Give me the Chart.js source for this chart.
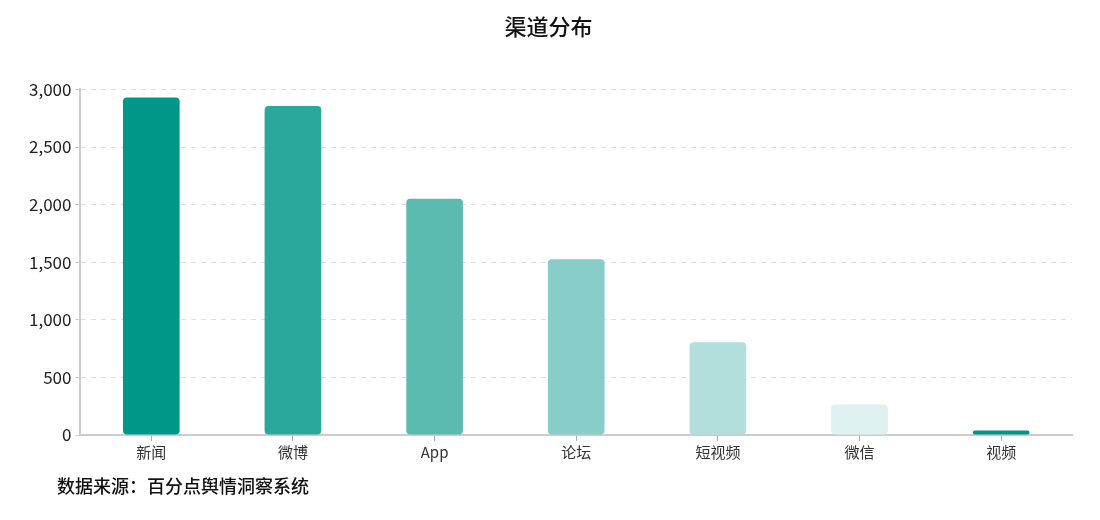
<!DOCTYPE html>
<html>
<head>
<meta charset="utf-8">
<script src="https://cdn.jsdelivr.net/npm/chart.js@4"></script>
<style>
    html, body { margin: 0; padding: 0; background: #fff; }
    #wrap { position: relative; width: 1100px; height: 520px; }
    #source {
        position: absolute; left: 57px; top: 472px;
        font: 500 18px "Noto Sans CJK SC", sans-serif; color: #111;
    }
</style>
</head>
<body>
<div id="wrap">
    <canvas id="channelChart" width="1100" height="520"></canvas>
    <div id="source">数据来源：百分点舆情洞察系统</div>
</div>
<script>
const channels = ['新闻', '微博', 'App', '论坛', '短视频', '微信', '视频'];
const counts = [2930, 2855, 2050, 1525, 805, 265, 38];
const barColors = ['#009688', '#2ba89c', '#5bbbb0', '#88cdc7', '#b2dfdb', '#dff1f0', '#009688'];

const fontFamily = '"Noto Sans CJK SC", "Noto Sans", sans-serif';

document.addEventListener('DOMContentLoaded', () => {
    initializeChart();
});

function initializeChart() {
    const ctx = document.getElementById('channelChart').getContext('2d');
    new Chart(ctx, {
        type: 'bar',
        data: {
            labels: channels,
            datasets: [{
                label: '渠道分布',
                data: counts,
                backgroundColor: barColors,
                borderRadius: 4,
                borderSkipped: false,
                barPercentage: 0.4,
                categoryPercentage: 1
            }]
        },
        options: {
            responsive: false,
            animation: false,
            layout: {
                padding: { left: 25, right: 28, top: 0, bottom: 57 }
            },
            plugins: {
                legend: { display: false },
                tooltip: { enabled: false },
                title: {
                    display: true,
                    text: '渠道分布',
                    color: '#111',
                    font: { family: fontFamily, size: 22, weight: '500' },
                    padding: { top: 13, bottom: 50 }
                }
            },
            scales: {
                x: {
                    grid: {
                        offset: false,
                        drawOnChartArea: false,
                        drawTicks: true,
                        tickLength: 6,
                        color: '#aaa'
                    },
                    border: { color: '#ccc', width: 2 },
                    ticks: {
                        color: '#333',
                        padding: 2,
                        font: { family: fontFamily, size: 15 }
                    }
                },
                y: {
                    min: 0,
                    max: 3000,
                    ticks: {
                        stepSize: 500,
                        color: '#222',
                        padding: 4,
                        font: { family: fontFamily, size: 17 }
                    },
                    grid: {
                        color: '#e0e0e0',
                        tickLength: 5,
                        tickColor: '#ccc'
                    },
                    border: { color: '#ccc', width: 2, dash: [5, 5] }
                }
            }
        }
    });
}
</script>
</body>
</html>
